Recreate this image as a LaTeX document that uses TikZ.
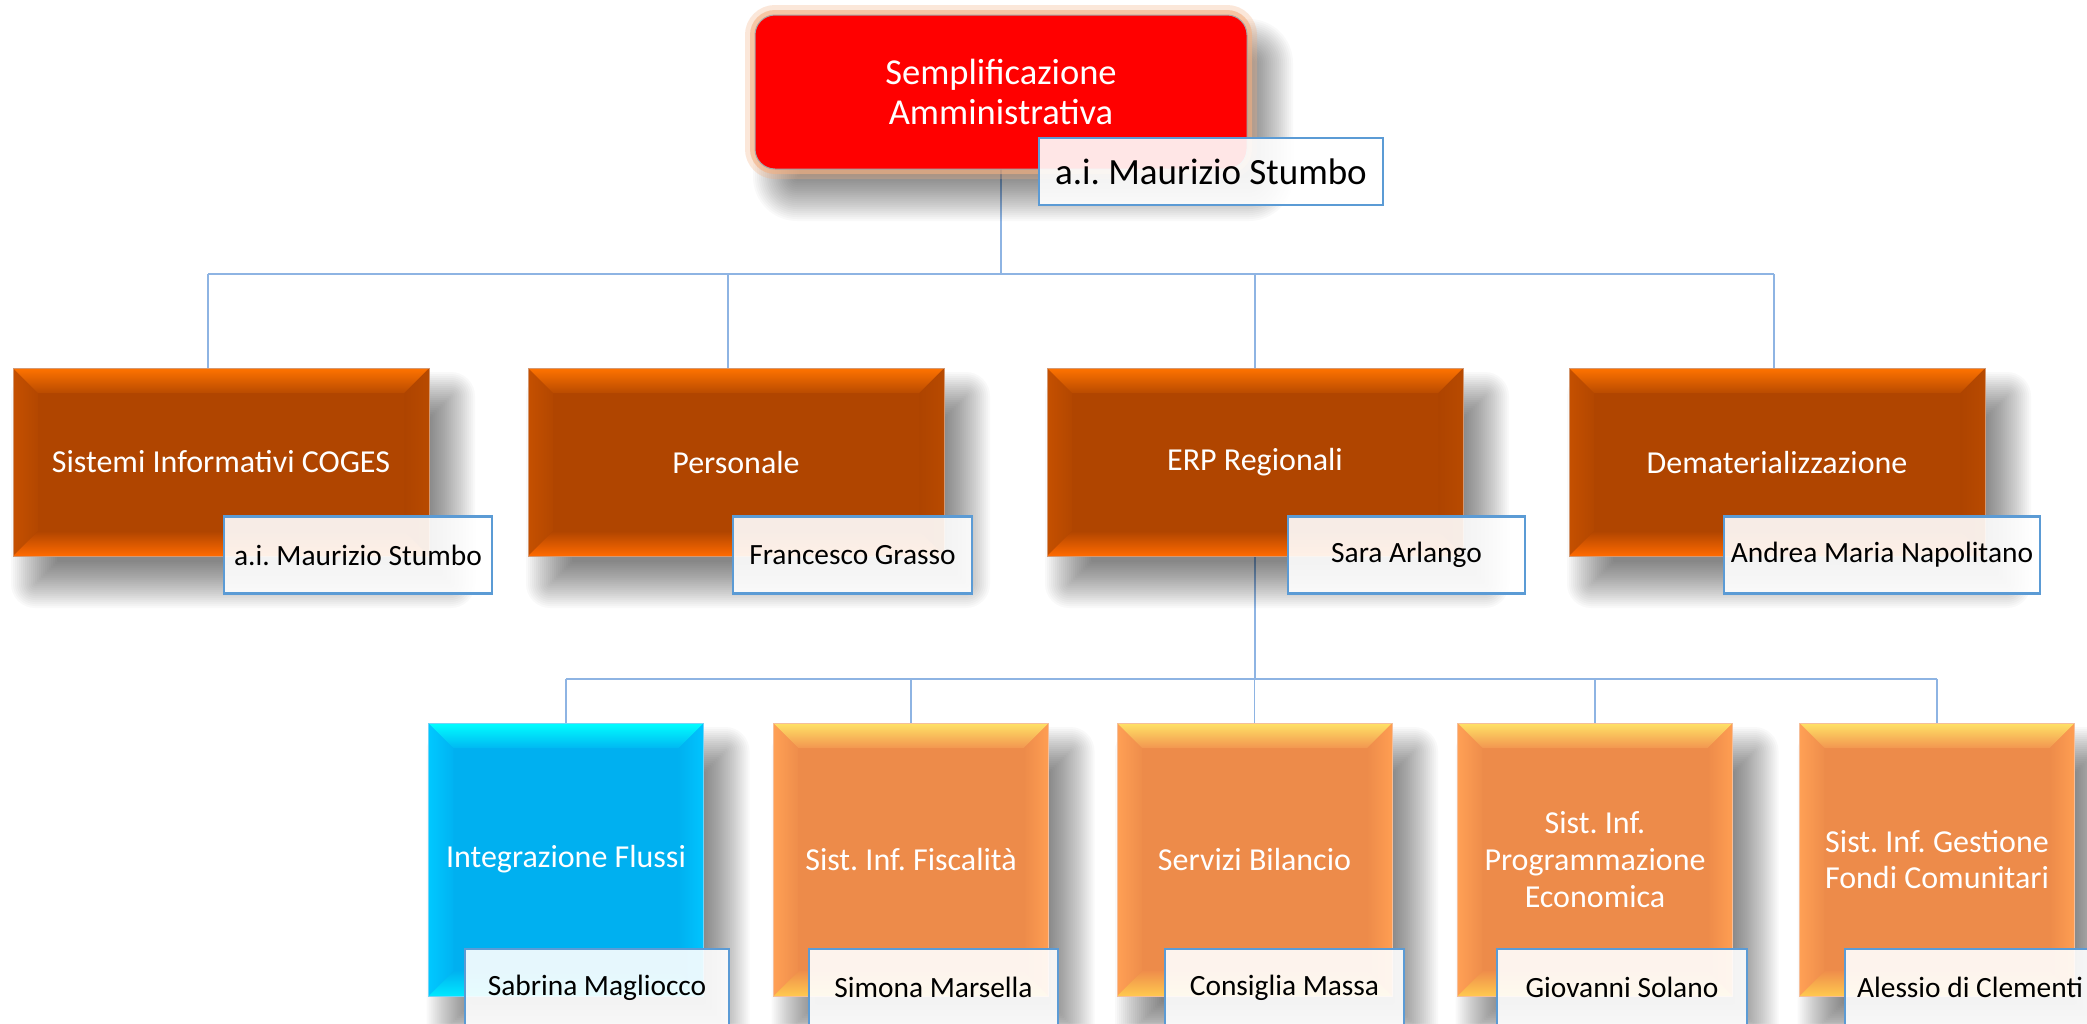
\documentclass[tikz,border=0pt]{standalone}
\usepackage{fontspec}
\setmainfont{Carlito}
\frenchspacing
\usetikzlibrary{backgrounds}
\pgfdeclarelayer{shadow}
\pgfsetlayers{background,shadow,main}

\definecolor{connc}{HTML}{8EB4E3}
\definecolor{lblue}{HTML}{5B9BD5}
\definecolor{topred}{HTML}{FF0000}
\definecolor{glow}{HTML}{F4B183}
% dark orange (level 2)
\definecolor{Dmain}{HTML}{B04500}
\definecolor{Dte}{HTML}{FF7300}
\definecolor{Dti}{HTML}{B94B00}
\definecolor{Dbe}{HTML}{FF6A00}
\definecolor{Dbi}{HTML}{B04500}
\definecolor{Dle}{HTML}{C55000}
\definecolor{Dli}{HTML}{B34700}
\definecolor{Dre}{HTML}{B84A00}
\definecolor{Dri}{HTML}{AE4400}
% light orange (level 3)
\definecolor{Omain}{HTML}{ED8B4A}
\definecolor{Ote}{HTML}{FFE266}
\definecolor{Oti}{HTML}{F29650}
\definecolor{Obe}{HTML}{FFC94F}
\definecolor{Obi}{HTML}{EF8E4B}
\definecolor{Ole}{HTML}{FFA055}
\definecolor{Oli}{HTML}{EE8D4B}
\definecolor{Ore}{HTML}{FF9E52}
\definecolor{Ori}{HTML}{ED8B4A}
% blue
\definecolor{Bmain}{HTML}{00B0F0}
\definecolor{Bte}{HTML}{00FFFF}
\definecolor{Bti}{HTML}{00B8F2}
\definecolor{Bbe}{HTML}{00E8FF}
\definecolor{Bbi}{HTML}{00B2F0}
\definecolor{Ble}{HTML}{00C8FF}
\definecolor{Bli}{HTML}{00B3F2}
\definecolor{Bre}{HTML}{00C4FF}
\definecolor{Bri}{HTML}{00B1F0}

\newcommand\bevelpaint[1]{%
  \path (path picture bounding box.north west) coordinate (q1)
        (path picture bounding box.north east) coordinate (q2)
        (path picture bounding box.south east) coordinate (q3)
        (path picture bounding box.south west) coordinate (q4);
  \shade[left color=#1le, right color=#1li] (q1) -- ([shift={(25pt,-25pt)}]q1) -- ([shift={(25pt,25pt)}]q4) -- (q4) -- cycle;
  \shade[left color=#1ri, right color=#1re] (q2) -- ([shift={(-25pt,-25pt)}]q2) -- ([shift={(-25pt,25pt)}]q3) -- (q3) -- cycle;
  \shade[top color=#1te, bottom color=#1ti] (q1) -- (q2) -- ([shift={(-25pt,-25pt)}]q2) -- ([shift={(25pt,-25pt)}]q1) -- cycle;
  \shade[top color=#1bi, bottom color=#1be] (q4) -- (q3) -- ([shift={(-25pt,25pt)}]q3) -- ([shift={(25pt,25pt)}]q4) -- cycle;
}

% soft drop shadow: #1 node name, #2 base corner radius (pt)
\newcommand\dropshadow[2]{%
  \foreach \i in {-24,-22,...,22}{%
    \pgfmathsetmacro\xa{22+\i}\pgfmathsetmacro\ya{-28-\i}%
    \pgfmathsetmacro\xb{22-\i}\pgfmathsetmacro\yb{-28+\i}%
    \pgfmathsetmacro\rr{max(#2-\i,1)}%
    \fill[black, fill opacity=0.022, rounded corners=\rr pt]
      ([shift={(\xa pt,\ya pt)}]#1.north west) rectangle ([shift={(\xb pt,\yb pt)}]#1.south east);
  }%
}

\tikzset{
  box/.style={rectangle, inner sep=0pt, outer sep=0pt, align=center, text=white,
    draw=#1main!55!white, line width=0.8pt, fill=#1main,
    path picture={\bevelpaint{#1}}},
  lvtwo/.style={box=D, minimum width=416, minimum height=188, font=\fontsize{32}{36.6}\selectfont},
  lvthree/.style={box=#1, minimum width=275, minimum height=273, font=\fontsize{32}{36.6}\selectfont},
  topbox/.style={rectangle, rounded corners=20pt, inner sep=0pt, outer sep=0pt, align=center,
    minimum width=492, minimum height=154, fill=topred, draw=gray!70, line width=1pt, text=white,
    font=\fontsize{36.5}{40}\selectfont,
    preaction={draw=glow, line width=20pt, draw opacity=0.3},
    preaction={draw=glow, line width=10pt, draw opacity=0.6}},
  lbl/.style={rectangle, inner sep=0pt, outer sep=0pt, minimum height=77, fill=white,
    fill opacity=0.9, text opacity=1, draw=lblue, line width=2.5pt, text=black,
    font=\fontsize{29.4}{34}\selectfont},
  conn/.style={draw=connc, line width=1.6pt},
}

\begin{document}
\begin{tikzpicture}[x=1pt, y=-1pt]
\useasboundingbox (0,0) rectangle (2087,1023);

% top
\node[topbox] (top) at (1001,92) {Semplificazione\\Amministrativa};
\node[lbl, minimum width=344, minimum height=67, font=\fontsize{37}{40}\selectfont] (tl) at (1211,171.5) {a.i. Maurizio Stumbo};

% level 2
\node[lvtwo] (n1) at (221,462) {Sistemi Informativi COGES};
\node[lvtwo] (n2) at (736,462) {Personale};
\node[lvtwo] (n3) at (1255,462) {ERP Regionali};
\node[lvtwo] (n4) at (1777,462) {Dematerializzazione};

\node[lbl, minimum width=268] (p1) at (358,555) {a.i. Maurizio Stumbo};
\node[lbl, minimum width=239] (p2) at (852.5,555) {Francesco Grasso};
\node[lbl, minimum width=237] (p3) at (1406.5,555) {Sara Arlango};
\node[lbl, minimum width=316] (p4) at (1882,555) {Andrea Maria Napolitano};

% level 3
\node[lvthree=B] (m1) at (566,859.5) {Integrazione Flussi};
\node[lvthree=O] (m2) at (911,859.5) {Sist. Inf. Fiscalità};
\node[lvthree=O] (m3) at (1254.5,859.5) {Servizi Bilancio};
\node[lvthree=O] (m4) at (1595,859.5) {Sist. Inf.\\Programmazione\\Economica};
\node[lvthree=O] (m5) at (1937,859.5) {Sist. Inf. Gestione\\Fondi Comunitari};

\node[lbl, minimum width=264] (r1) at (597,987.5) {Sabrina Magliocco};
\node[lbl, minimum width=249] (r2) at (933.5,987.5) {Simona Marsella};
\node[lbl, minimum width=239] (r3) at (1284.5,987.5) {Consiglia Massa};
\node[lbl, minimum width=250] (r4) at (1622,987.5) {Giovanni Solano};
\node[lbl, minimum width=250] (r5) at (1970,987.5) {Alessio di Clementi};

% shadows
\begin{pgfonlayer}{shadow}
  \dropshadow{top}{20}
  \dropshadow{n1}{0}
  \dropshadow{n2}{0}
  \dropshadow{n3}{0}
  \dropshadow{n4}{0}
  \dropshadow{m1}{0}
  \dropshadow{m2}{0}
  \dropshadow{m3}{0}
  \dropshadow{m4}{0}
  \dropshadow{m5}{0}
\end{pgfonlayer}

% connectors
\begin{scope}[on background layer]
  \fill[white] (0,0) rectangle (2087,1023);
  \coordinate (j1) at (208,274);
  \coordinate (j2) at (728,274);
  \coordinate (j3) at (1255,274);
  \coordinate (j4) at (1774,274);
  \coordinate (k) at (0,679);
  \draw[conn] (top.south) -- (top.south |- j1);
  \draw[conn] (j1) -- (j4);
  \draw[conn] (j1) -- (j1 |- n1.north);
  \draw[conn] (j2) -- (j2 |- n2.north);
  \draw[conn] (j3) -- (j3 |- n3.north);
  \draw[conn] (j4) -- (j4 |- n4.north);
  \draw[conn] (n3.south) -- (n3.south |- k);
  \draw[conn] (m1.north |- k) -- (m5.north |- k);
  \draw[conn] (m1.north |- k) -- (m1.north);
  \draw[conn] (m2.north |- k) -- (m2.north);
  \draw[conn] (m3.north |- k) -- (m3.north);
  \draw[conn] (m4.north |- k) -- (m4.north);
  \draw[conn] (m5.north |- k) -- (m5.north);
\end{scope}
\end{tikzpicture}
\end{document}
